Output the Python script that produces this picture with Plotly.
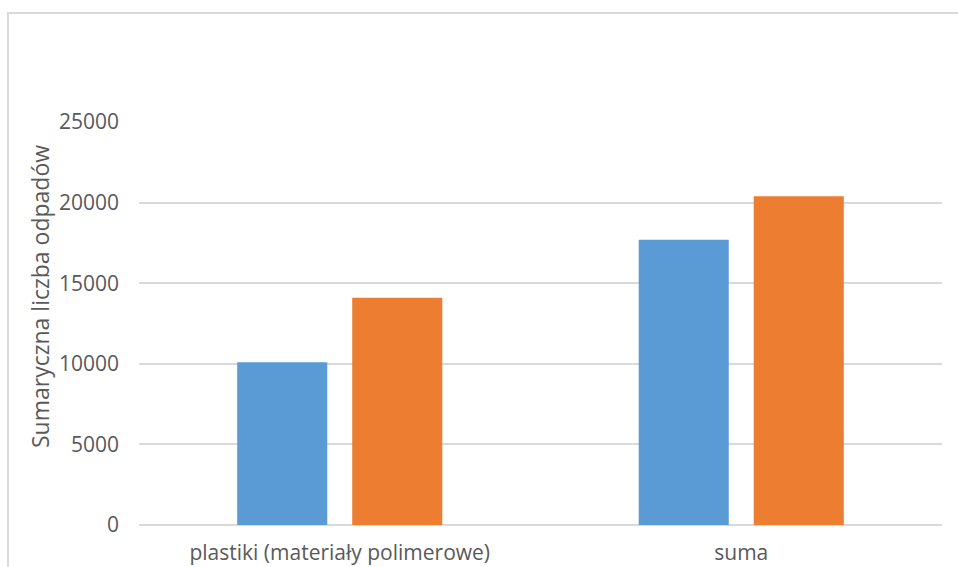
import plotly.graph_objects as go

categories = ["plastiki (materiały polimerowe)", "suma"]
series_a = [10100, 17700]
series_b = [14100, 20400]
y_ticks = [0, 5000, 10000, 15000, 20000, 25000]
y_title = "Sumaryczna liczba odpadów"

W, H = 958, 567
L, R, T, B = 139, 16, 122, 42
plot_h = H - T - B
plot_w = W - L - R

font = dict(family="Open Sans", size=21, color="#595959")
title_font = dict(family="Open Sans", size=23, color="#595959")

fig = go.Figure()
fig.add_trace(go.Bar(x=categories, y=series_a, marker=dict(color="#5B9BD5", line=dict(width=0)), name="A"))
fig.add_trace(go.Bar(x=categories, y=series_b, marker=dict(color="#ED7D31", line=dict(width=0)), name="B"))

fig.update_layout(
    width=W, height=H,
    margin=dict(l=L, r=R, t=T, b=B, pad=0, autoexpand=False),
    paper_bgcolor="white", plot_bgcolor="white",
    barmode="group", bargap=0.427, bargroupgap=0.217,
    showlegend=False,
    font=font,
    xaxis=dict(showgrid=False, showline=False, zeroline=False, ticks="", automargin=False,
               tickfont=font, ticklabelstandoff=13),
    yaxis=dict(range=[0, 25000], tickvals=y_ticks, ticktext=[str(v) for v in y_ticks],
               automargin=False,
               showgrid=True, gridcolor="#D9D9D9", gridwidth=1.5,
               zeroline=True, zerolinecolor="#D9D9D9", zerolinewidth=1.5,
               showline=False, ticks="", tickfont=font, ticklabelstandoff=19),
)

fig.add_annotation(
    text=y_title, textangle=-90, showarrow=False,
    xref="paper", yref="paper",
    x=(40 - L) / plot_w, y=(H - B - 297) / plot_h,
    xanchor="center", yanchor="middle", font=title_font,
)

fig.add_shape(
    type="rect", xref="paper", yref="paper",
    x0=(8 - L) / plot_w, x1=(W + 20 - L) / plot_w,
    y0=(H - B - (H + 20)) / plot_h, y1=(H - B - 13) / plot_h,
    line=dict(color="#D9D9D9", width=2), fillcolor="rgba(0,0,0,0)", layer="below",
)

fig.write_html("out.html", config={"displayModeBar": False},
               post_script="document.body.style.margin='0';document.body.style.overflow='hidden';")
